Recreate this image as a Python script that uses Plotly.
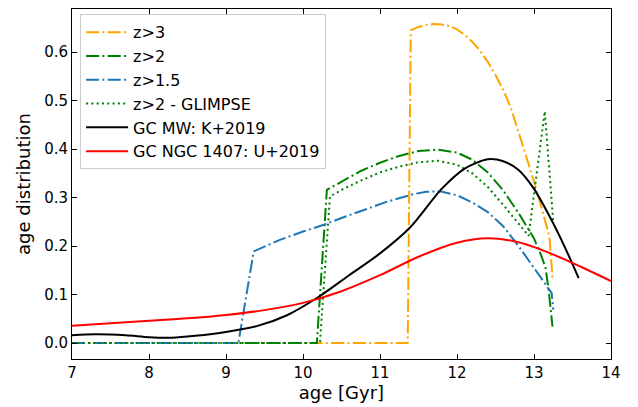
import plotly.graph_objects as go

# z>3
x_z3 = [7, 11.36, 11.40, 11.5, 11.6, 11.7, 11.8, 11.9, 12.0, 12.1, 12.2, 12.3, 12.4, 12.5, 12.6, 12.7, 12.8, 12.9, 13.0, 13.1, 13.2, 13.24]
y_z3 = [0, 0, 0.645, 0.652, 0.656, 0.658, 0.657, 0.654, 0.647, 0.636, 0.621, 0.603, 0.580, 0.553, 0.522, 0.485, 0.435, 0.385, 0.333, 0.278, 0.220, 0.135]
# z>2
x_z2 = [7, 10.18, 10.31, 10.5, 10.75, 11.0, 11.25, 11.5, 11.75, 12.0, 12.2, 12.4, 12.6, 12.8, 13.0, 13.1, 13.15, 13.19, 13.24]
y_z2 = [0, 0, 0.316, 0.333, 0.355, 0.372, 0.386, 0.396, 0.399, 0.393, 0.378, 0.352, 0.315, 0.268, 0.216, 0.178, 0.155, 0.11, 0.034]
# z>1.5
x_z15 = [7, 9.16, 9.36, 9.7, 10.0, 10.27, 10.5, 10.8, 11.1, 11.43, 11.6, 11.78, 12.0, 12.2, 12.4, 12.6, 12.8, 13.0, 13.17, 13.23, 13.25]
y_z15 = [0, 0, 0.189, 0.213, 0.230, 0.244, 0.258, 0.275, 0.292, 0.307, 0.312, 0.313, 0.305, 0.290, 0.270, 0.241, 0.200, 0.155, 0.117, 0.103, 0.069]
# z>2 - GLIMPSE
x_gl = [7, 10.22, 10.35, 10.5, 10.75, 11.0, 11.25, 11.5, 11.75, 12.0, 12.2, 12.4, 12.6, 12.8, 12.93, 13.14, 13.25]
y_gl = [0, 0, 0.302, 0.316, 0.335, 0.352, 0.364, 0.373, 0.376, 0.368, 0.350, 0.322, 0.285, 0.245, 0.221, 0.478, 0.250]
# GC MW: K+2019
x_mw = [7, 7.3, 7.7, 8.0, 8.3, 8.6, 9.0, 9.4, 9.8, 10.2, 10.6, 11.0, 11.4, 11.8, 12.1, 12.4, 12.6, 12.8, 13.0, 13.2, 13.4, 13.58]
y_mw = [0.016, 0.018, 0.016, 0.012, 0.011, 0.015, 0.023, 0.035, 0.058, 0.095, 0.14, 0.185, 0.24, 0.318, 0.36, 0.379, 0.375, 0.357, 0.318, 0.262, 0.198, 0.134]
# GC NGC 1407: U+2019
x_ngc = [7, 7.5, 8.0, 8.5, 9.0, 9.5, 10.0, 10.5, 11.0, 11.5, 12.0, 12.4, 12.8, 13.2, 13.6, 14.0]
y_ngc = [0.036, 0.041, 0.046, 0.051, 0.058, 0.068, 0.083, 0.107, 0.140, 0.178, 0.207, 0.216, 0.208, 0.186, 0.158, 0.128]

x_ticks = [7, 8, 9, 10, 11, 12, 13, 14]
y_ticks = [0.0, 0.1, 0.2, 0.3, 0.4, 0.5, 0.6]

DD = "13px,3.3px,2px,3.3px"
DOT = "2px,3.3px"

fig = go.Figure()
fig.add_trace(go.Scatter(x=x_z3, y=y_z3, mode="lines", name="z>3",
                         line=dict(color="orange", width=2, dash=DD)))
fig.add_trace(go.Scatter(x=x_z2, y=y_z2, mode="lines", name="z>2",
                         line=dict(color="green", width=2, dash=DD)))
fig.add_trace(go.Scatter(x=x_z15, y=y_z15, mode="lines", name="z>1.5",
                         line=dict(color="#1f77b4", width=2, dash=DD)))
fig.add_trace(go.Scatter(x=x_gl, y=y_gl, mode="lines", name="z>2 - GLIMPSE",
                         line=dict(color="green", width=2, dash=DOT)))
fig.add_trace(go.Scatter(x=x_mw, y=y_mw, mode="lines", name="GC MW: K+2019",
                         line=dict(color="black", width=2, shape="spline", smoothing=0.8)))
fig.add_trace(go.Scatter(x=x_ngc, y=y_ngc, mode="lines", name="GC NGC 1407: U+2019",
                         line=dict(color="red", width=2, shape="spline", smoothing=0.8)))

axis_common = dict(showgrid=False, zeroline=False, showline=True, linecolor="black",
                   linewidth=1, mirror="ticks", ticks="inside", ticklen=5,
                   tickcolor="black", tickfont=dict(size=15, color="black"),
                   automargin=False)

fig.update_layout(
    width=638, height=407,
    margin=dict(l=72, r=27, t=9, b=48, autoexpand=False),
    paper_bgcolor="white", plot_bgcolor="white",
    font=dict(family="DejaVu Sans", color="black"),
    xaxis=dict(range=[7, 14], tickvals=x_ticks, ticktext=[str(v) for v in x_ticks],
               title=dict(text="age [Gyr]", font=dict(size=18), standoff=3), **axis_common),
    yaxis=dict(range=[-0.0328, 0.689], tickvals=y_ticks, ticktext=[f"{v:.1f}" for v in y_ticks],
               title=dict(text="age distribution", font=dict(size=18), standoff=8), **axis_common),
    legend=dict(x=0.015, y=0.985, xanchor="left", yanchor="top",
                bgcolor="rgba(255,255,255,0.85)", bordercolor="#cccccc", borderwidth=1,
                font=dict(size=16, color="black"), tracegroupgap=0, itemwidth=42),
    showlegend=True,
)

fig.write_html("out.html", config={"displayModeBar": False},
               post_script="document.body.style.margin='0px';document.body.style.padding='0px';")
